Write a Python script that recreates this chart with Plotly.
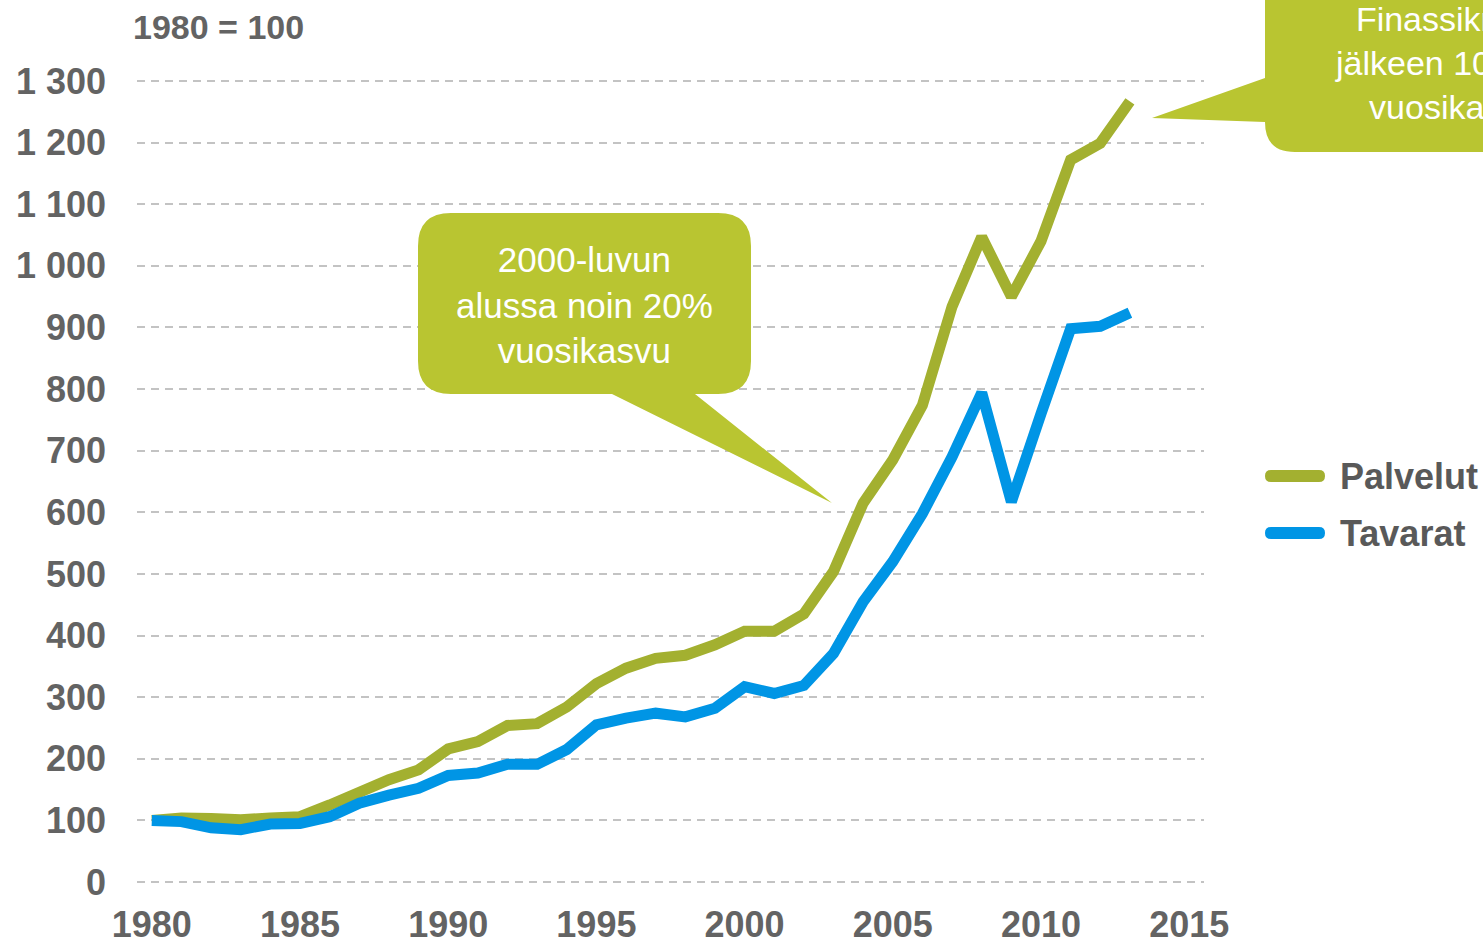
import plotly.graph_objects as go

years = list(range(1980, 2014))
palvelut = [100, 104, 103, 101, 104, 106, 125, 147, 166, 182,
            216, 228, 254, 257, 284, 322, 347, 363, 368, 385,
            407, 407, 435, 504, 615, 685, 774, 934, 1047, 950,
            1040, 1172, 1199, 1267]
tavarat = [100, 98, 88, 85, 94, 95, 106, 128, 141, 152,
           173, 177, 191, 191, 215, 255, 266, 274, 268, 282,
           317, 306, 319, 371, 455, 520, 598, 690, 794, 617,
           760, 898, 902, 924]

y_ticks = [0, 100, 200, 300, 400, 500, 600, 700, 800, 900, 1000, 1100, 1200, 1300]
y_labels = ["0", "100", "200", "300", "400", "500", "600", "700", "800", "900",
            "1 000", "1 100", "1 200", "1 300"]
x_ticks = [1980, 1985, 1990, 1995, 2000, 2005, 2010, 2015]
x_labels = ["1980", "1985", "1990", "1995", "2000", "2005", "2010", "2015"]

series_names = ["Palvelut", "Tavarat"]
green = "#A3B030"
blue = "#0095E5"
callout_fill = "#B9C531"
text_grey = "#636363"
FONT = "Liberation Sans, Arial, sans-serif"

W, H = 1483, 944
PL, PR, PT, PB = 137, 1204, 72, 891
# pixel positions of value 0 and 1300 in the reference
Y0_PX, Y1300_PX = 882, 81
K = (Y0_PX - Y1300_PX) / 1300.0
Y_RANGE = [-(PB - Y0_PX) / K, 1300 + (Y1300_PX - PT) / K]


def px(x):
    return (x - PL) / (PR - PL)


def py(y):
    return (PB - y) / (PB - PT)


def path(points):
    parts = []
    for item in points:
        cmd = item[0]
        coords = item[1:]
        vals = []
        for i in range(0, len(coords), 2):
            vals.append(f"{px(coords[i]):.5f},{py(coords[i+1]):.5f}")
        parts.append(cmd + " " + " ".join(vals))
    return " ".join(parts) + " Z"


fig = go.Figure()
fig.add_trace(go.Scatter(x=years, y=palvelut, mode="lines", name=series_names[0],
                         line=dict(color=green, width=11), showlegend=False,
                         cliponaxis=False))
fig.add_trace(go.Scatter(x=years, y=tavarat, mode="lines", name=series_names[1],
                         line=dict(color=blue, width=11), showlegend=False,
                         cliponaxis=False))

# Callout 1
L, R, T, B, r = 418, 751, 213, 394, 33
c1 = path([
    ("M", L + r, T), ("L", R - r, T), ("Q", R, T, R, T + r), ("L", R, B - r),
    ("Q", R, B, R - r, B), ("L", 695, B), ("L", 832, 503), ("L", 612, B),
    ("L", L + r, B), ("Q", L, B, L, B - r), ("L", L, T + r), ("Q", L, T, L + r, T),
])
# Callout 2
L2, R2, T2, B2, r2 = 1265, 1700, -60, 152, 30
c2 = path([
    ("M", L2, T2), ("L", R2, T2), ("L", R2, B2), ("L", L2 + r2, B2),
    ("Q", L2, B2, L2, B2 - r2), ("L", L2, 122), ("L", 1152, 118), ("L", L2, 78),
])

shapes = [
    dict(type="path", xref="paper", yref="paper", path=c1, fillcolor=callout_fill,
         line=dict(width=0), layer="above"),
    dict(type="path", xref="paper", yref="paper", path=c2, fillcolor=callout_fill,
         line=dict(width=0), layer="above"),
]

# Legend bars
for yc, col in [(476, green), (533, blue)]:
    x0, x1, h = 1265, 1325, 6
    p = path([
        ("M", x0 + h, yc - h), ("L", x1 - h, yc - h), ("Q", x1, yc - h, x1, yc),
        ("Q", x1, yc + h, x1 - h, yc + h), ("L", x0 + h, yc + h),
        ("Q", x0, yc + h, x0, yc), ("Q", x0, yc - h, x0 + h, yc - h),
    ])
    shapes.append(dict(type="path", xref="paper", yref="paper", path=p,
                       fillcolor=col, line=dict(width=0), layer="above"))

annotations = [
    dict(x=px(218), y=py(27), xref="paper", yref="paper", text="1980 = 100",
         showarrow=False, xanchor="center", yanchor="middle",
         font=dict(family=FONT, size=34, color=text_grey, weight="bold")),
    dict(x=px(584), y=py(305), xref="paper", yref="paper",
         text="2000-luvun<br>alussa noin 20%<br>vuosikasvu",
         showarrow=False, xanchor="center", yanchor="middle", align="center",
         font=dict(family=FONT, size=35, color="white")),
    dict(x=px(1452), y=py(63), xref="paper", yref="paper",
         text="Finassikriisin<br>jälkeen 10-15%<br>vuosikasvu",
         showarrow=False, xanchor="center", yanchor="middle", align="center",
         font=dict(family=FONT, size=34, color="white")),
    dict(x=px(1338), y=py(476), xref="paper", yref="paper", text=series_names[0],
         showarrow=False, xanchor="left", yanchor="middle",
         font=dict(family=FONT, size=36, color="#595959", weight="bold")),
    dict(x=px(1338), y=py(533), xref="paper", yref="paper", text=series_names[1],
         showarrow=False, xanchor="left", yanchor="middle",
         font=dict(family=FONT, size=36, color="#595959", weight="bold")),
]

fig.update_layout(
    width=W, height=H,
    margin=dict(l=PL, r=W - PR, t=PT, b=H - PB, pad=0, autoexpand=False),
    paper_bgcolor="white", plot_bgcolor="white",
    showlegend=False,
    shapes=shapes, annotations=annotations,
    xaxis=dict(range=[1979.5, 2015.5], tickvals=x_ticks, ticktext=x_labels,
               showgrid=False, zeroline=False, showline=False, ticks="",
               automargin=False, ticklabelstandoff=9,
               tickfont=dict(family=FONT, size=36, color=text_grey, weight="bold")),
    yaxis=dict(range=Y_RANGE, tickvals=y_ticks, ticktext=y_labels,
               showgrid=True, gridcolor="#C3C3C3", gridwidth=2, griddash="8px,6px",
               zeroline=False, showline=False, ticks="",
               automargin=False, ticklabelstandoff=30,
               tickfont=dict(family=FONT, size=36, color=text_grey, weight="bold")),
)

fig.write_html(
    "out.html",
    config={"displayModeBar": False},
    post_script="document.body.style.margin='0';document.body.style.overflow='hidden';",
)
